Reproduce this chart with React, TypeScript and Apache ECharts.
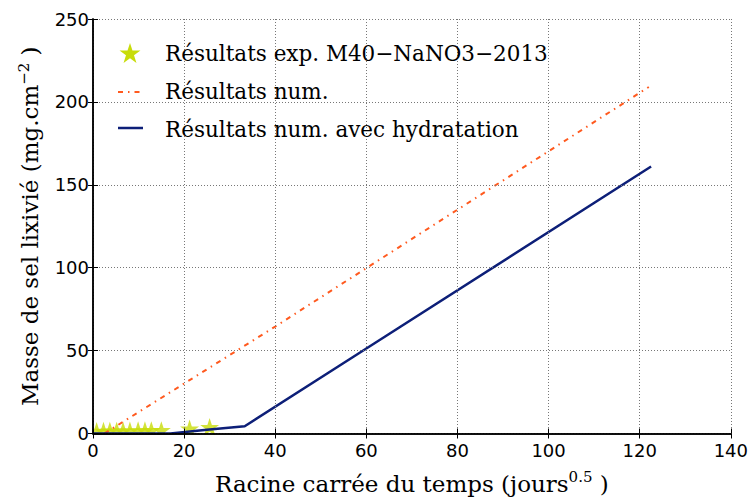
import React, { useEffect, useRef } from "react";
import * as echarts from "echarts";

const expX = [0.8, 2.3, 3.7, 5.2, 6.6, 8.1, 9.9, 11.4, 12.8, 15.0, 21.2, 25.6];
const expY = [1.5, 1.6, 1.7, 1.7, 1.8, 1.8, 1.9, 1.9, 2.0, 2.0, 3.0, 3.9];

const numX = [2.5, 40, 122];
const numY = [0, 64.5, 209];

const hydX = [0, 17, 25, 33.3, 60, 122.5];
const hydY = [0, 0, 2.2, 4.4, 51.3, 161];

const xTicks = [0, 20, 40, 60, 80, 100, 120, 140];
const yTicks = [0, 50, 100, 150, 200, 250];

const legendNames = [
  "Résultats exp. M40−NaNO3−2013",
  "Résultats num.",
  "Résultats num. avec hydratation",
];

const SERIF = "'DejaVu Serif', serif";
const SANS = "'DejaVu Sans', sans-serif";

const STAR_COLOR = "#c8dc0a";
const NUM_COLOR = "#ff5a1f";
const HYD_COLOR = "#0d1f78";
const NUM_DASH = [5, 5, 1.5, 5];

function starPoints(cx: number, cy: number, r: number) {
  const pts: number[][] = [];
  const inner = r * 0.382;
  for (let i = 0; i < 10; i++) {
    const a = -Math.PI / 2 + (i * Math.PI) / 5;
    const rr = i % 2 === 0 ? r : inner;
    pts.push([cx + rr * Math.cos(a), cy + rr * Math.sin(a)]);
  }
  return pts;
}

export default function App() {
  const ref = useRef<HTMLDivElement>(null);
  useEffect(() => {
    if (!ref.current) return;
    const chart = echarts.init(ref.current, null, { renderer: "svg" });
    const grid = { left: 93, right: 19, top: 19, bottom: 66 };
    const xMin = xTicks[0];
    const xMax = xTicks[xTicks.length - 1];
    const yMin = yTicks[0];
    const yMax = yTicks[yTicks.length - 1];
    const axisCommon = {
      axisLine: { show: true, lineStyle: { color: "#000", width: 1.5 } },
      axisTick: { show: true, inside: true, length: 5, lineStyle: { color: "#000", width: 1 } },
    };
    const legendTextStyle = { fontFamily: SERIF, fontSize: 21.5, fill: "#000", verticalAlign: "middle", align: "left" };
    const nameStyle = {
      fontFamily: SERIF,
      fontSize: 23,
      color: "#000",
      rich: {
        sup: { fontFamily: SERIF, fontSize: 15, color: "#000", padding: [0, 0, 13, 0] },
      },
    };
    const option: any = {
      animation: false,
      backgroundColor: "#fff",
      grid,
      graphic: [
        { type: "rect", z: 10, silent: true, shape: { x: 0, y: 435, width: 751, height: 65 }, style: { fill: "#fff" } },
        { type: "rect", z: 10, silent: true, shape: { x: 0, y: 0, width: 92.5, height: 500 }, style: { fill: "#fff" } },
        // legend
        { type: "polygon", z: 30, shape: { points: starPoints(130, 54, 11) }, style: { fill: STAR_COLOR } },
        { type: "text", z: 30, x: 165, y: 53, style: { text: legendNames[0], ...legendTextStyle } },
        { type: "line", z: 30, shape: { x1: 118, y1: 92, x2: 143, y2: 92 }, style: { stroke: NUM_COLOR, lineWidth: 2, lineDash: NUM_DASH } },
        { type: "text", z: 30, x: 165, y: 91, style: { text: legendNames[1], ...legendTextStyle } },
        { type: "line", z: 30, shape: { x1: 118, y1: 128, x2: 143, y2: 128 }, style: { stroke: HYD_COLOR, lineWidth: 2.5 } },
        { type: "text", z: 30, x: 165, y: 129, style: { text: legendNames[2], ...legendTextStyle } },
      ],
      xAxis: [
        {
          type: "value",
          min: xMin,
          max: xMax,
          interval: 20,
          z: 20,
          ...axisCommon,
          axisLabel: { fontFamily: SANS, fontSize: 18, color: "#000", margin: 8 },
          splitLine: { show: true, lineStyle: { color: "#777", type: [1, 2], width: 1 } },
          name: "Racine carrée du temps (jours{sup|0.5} )",
          nameLocation: "middle",
          nameGap: 36,
          nameTextStyle: nameStyle,
        },
        {
          type: "value",
          position: "top",
          min: xMin,
          max: xMax,
          interval: 20,
          z: 20,
          ...axisCommon,
          axisLabel: { show: false },
          splitLine: { show: false },
        },
      ],
      yAxis: [
        {
          type: "value",
          min: yMin,
          max: yMax,
          interval: 50,
          z: 20,
          ...axisCommon,
          axisLabel: { fontFamily: SANS, fontSize: 18, color: "#000", margin: 4 },
          splitLine: { show: true, lineStyle: { color: "#777", type: [1, 2], width: 1 } },
          name: "Masse de sel lixivié (mg.cm{sup|−2} )",
          nameLocation: "middle",
          nameGap: 49,
          nameTextStyle: nameStyle,
        },
        {
          type: "value",
          position: "right",
          min: yMin,
          max: yMax,
          interval: 50,
          z: 20,
          ...axisCommon,
          axisLabel: { show: false },
          splitLine: { show: false },
        },
      ],
      series: [
        {
          name: legendNames[0],
          type: "scatter",
          symbol: "path://M50,0 L61.8,36.3 L100,36.3 L69.1,58.8 L80.9,95.1 L50,72.6 L19.1,95.1 L30.9,58.8 L0,36.3 L38.2,36.3 Z",
          symbolSize: [19, 18],
          itemStyle: { color: STAR_COLOR },
          data: expX.map((x, i) => [x, expY[i]]),
        },
        {
          name: legendNames[1],
          type: "line",
          symbol: "none",
          lineStyle: { color: NUM_COLOR, width: 2, type: NUM_DASH },
          itemStyle: { color: NUM_COLOR },
          data: numX.map((x, i) => [x, numY[i]]),
        },
        {
          name: legendNames[2],
          type: "line",
          symbol: "none",
          lineStyle: { color: HYD_COLOR, width: 2.5 },
          itemStyle: { color: HYD_COLOR },
          data: hydX.map((x, i) => [x, hydY[i]]),
        },
      ],
    };
    chart.setOption(option);
    return () => chart.dispose();
  }, []);
  return <div ref={ref} style={{ width: 751, height: 500, position: "absolute", left: 0, top: 0 }} />;
}
